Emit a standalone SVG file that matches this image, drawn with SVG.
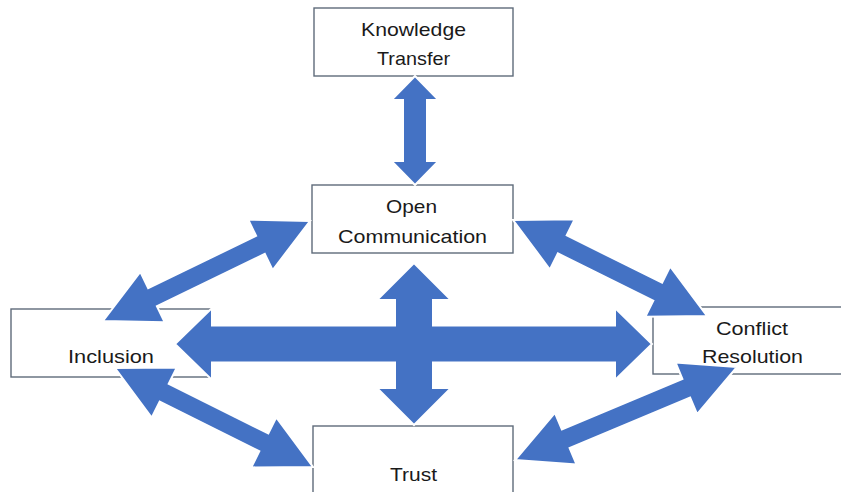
<svg xmlns="http://www.w3.org/2000/svg" width="841" height="492" viewBox="0 0 841 492">
<style>
.box{fill:#ffffff;stroke:#5f6b7a;stroke-width:1.4}
.lbl{font-family:"Liberation Sans",Arial,sans-serif;font-size:19px;fill:#1a1a1a}
.arw{fill:#4472C4;stroke:#ffffff;stroke-width:2;stroke-linejoin:miter}
</style>
<rect width="841" height="492" fill="#ffffff"/>
<g id="knowledge-transfer">
<rect class="box" x="314" y="8" width="199" height="68"/>
<text class="lbl" x="361" y="36" textLength="105" lengthAdjust="spacingAndGlyphs">Knowledge</text>
<text class="lbl" x="377" y="65" textLength="73" lengthAdjust="spacingAndGlyphs">Transfer</text>
</g>
<g id="open-communication">
<rect class="box" x="312" y="185" width="201" height="68"/>
<text class="lbl" x="386" y="213" textLength="51" lengthAdjust="spacingAndGlyphs">Open</text>
<text class="lbl" x="338" y="243" textLength="149" lengthAdjust="spacingAndGlyphs">Communication</text>
</g>
<g id="inclusion">
<rect class="box" x="11" y="309" width="200" height="68"/>
<text class="lbl" x="68" y="363" textLength="86" lengthAdjust="spacingAndGlyphs">Inclusion</text>
</g>
<g id="trust">
<rect class="box" x="313" y="426" width="200" height="72"/>
<text class="lbl" x="390" y="481" textLength="47" lengthAdjust="spacingAndGlyphs">Trust</text>
</g>
<g id="conflict-resolution">
<rect class="box" x="653" y="307" width="195" height="67"/>
<text class="lbl" x="716" y="335" textLength="72" lengthAdjust="spacingAndGlyphs">Conflict</text>
<text class="lbl" x="702" y="363" textLength="101" lengthAdjust="spacingAndGlyphs">Resolution</text>
</g>
<g id="connectors">
<polygon class="arw" points="415,76 438.5,100 427,100 427,161 438.5,161 415,185 391.5,161 403,161 403,100 391.5,100"/>
<polygon class="arw" points="310,221 248.3,219.7 256.1,235.9 148.2,288.1 140.3,271.9 103,321 164.7,322.3 156.9,306.1 264.8,253.9 272.7,270.1"/>
<polygon class="arw" points="513,220 549.9,269.5 557.9,253.4 653.3,300.6 645.3,316.7 707,316 670.1,266.5 662.1,282.7 566.7,235.4 574.7,219.3"/>
<polygon class="arw" points="115,368 151.7,417.6 159.7,401.5 259.3,451.3 251.3,467.4 313,467 276.3,417.4 268.3,433.5 168.7,383.7 176.7,367.6"/>
<polygon class="arw" points="515,460 576.6,464.6 569.6,448 690.1,397.5 697.1,414.1 737,367 675.5,362.4 682.4,379 561.9,429.5 554.9,412.9"/>
<polygon class="arw" points="414,263 451,300 433,300 433,325.5 615,325.5 615,308 652,344 615,380 615,362.5 433,362.5 433,388 451,388 414,425 377,388 395,388 395,362.5 212,362.5 212,380 175,344 212,308 212,325.5 395,325.5 395,300 377,300"/>
</g>
</svg>
